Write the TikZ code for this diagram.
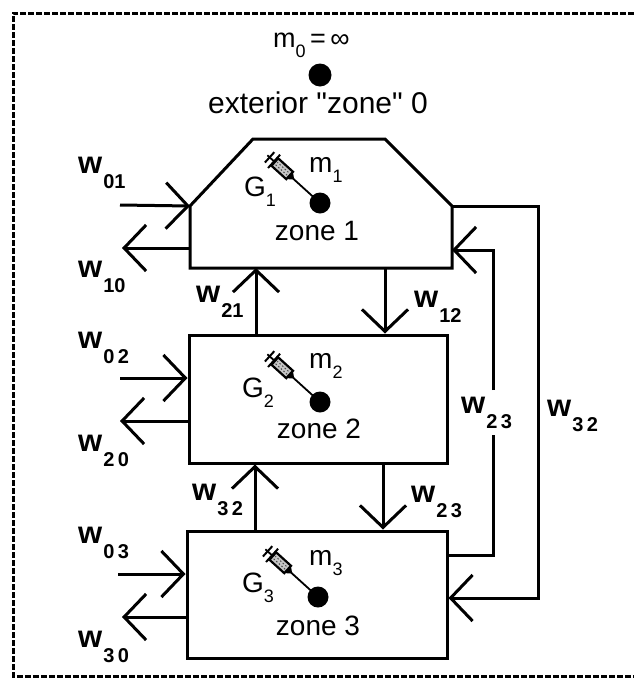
\documentclass[tikz,border=0pt]{standalone}
\usepackage{fontspec}
\setmainfont{Liberation Sans}
\newfontfamily\qf{Liberation Sans}
\usetikzlibrary{arrows.meta,calc}
\newcommand{\wsub}[1]{w\hspace{1pt}\raisebox{-15pt}{\fontsize{20}{20}\selectfont #1}}
\newcommand{\gsub}[2]{#1\raisebox{-10pt}{\fontsize{18}{18}\selectfont #2}}
\begin{document}
\begin{tikzpicture}[x=1pt,y=-1pt,
  ln/.style={line width=3pt},
  arr/.style={line width=3pt,-{Straight Barb[length=22pt,width=46pt]}},
  zonebox/.style={draw,line width=3pt,rectangle,inner sep=0pt},
  dotnode/.style={circle,fill=black,inner sep=0pt,minimum size=21pt},
  big/.style={font=\fontsize{28}{30}\selectfont,inner sep=0pt,anchor=base},
  wlab/.style={font=\fontsize{31}{31}\selectfont\bfseries,inner sep=0pt,anchor=base west},
  gm/.style={font=\fontsize{28}{28}\selectfont,inner sep=0pt,anchor=base west},
  border/.style={line width=3pt,dash pattern=on 6pt off 2pt}
]
\useasboundingbox (0,0) rectangle (634,678);
% dashed frame
\coordinate (fr1) at (634,13);
\coordinate (fr2) at (13,13);
\coordinate (fr3) at (13,676);
\coordinate (fr4) at (634,676);
\draw[border] (fr1) -- (fr2) -- (fr3) -- (fr4);

% exterior zone 0
\node[gm,font=\fontsize{27}{27}\selectfont] (m0) at (273,47) {\gsub{m}{0}\,=\,∞};
\node[dotnode,minimum size=23pt] (d0) at (320,75) {};
\node[big,font=\fontsize{30}{30}\selectfont] (ext) at (318,113) {exterior {\qf"}zone{\qf"} 0};

% zone 1 (chamfered box)
\coordinate (z1a) at (253,139);
\coordinate (z1b) at (385,139);
\coordinate (z1c) at (452,206);
\coordinate (z1d) at (452,268);
\coordinate (z1e) at (190,268);
\coordinate (z1f) at (190,206);
\draw[ln,line join=miter] (z1a) -- (z1b) -- (z1c) -- (z1d) -- (z1e) -- (z1f) -- cycle;

% zone 2 and zone 3 boxes
\node[zonebox,minimum width=258pt,minimum height=128pt] (b2) at (318,399) {};
\node[zonebox,minimum width=260pt,minimum height=127pt] (b3) at (317,594.5) {};

% dots
\node[dotnode] (d1) at (320,203) {};
\node[dotnode] (d2) at (320,402) {};
\node[dotnode] (d3) at (318,597) {};

% syringes
\foreach \d in {d1,d2,d3}{
  \begin{scope}[shift={(\d.center)},rotate=137.8]
    \draw[line width=1.8pt] (8,0) -- (36,0);
    \draw[line width=1.4pt,fill=black] (36,0) -- (41,-4) -- (41,4) -- cycle;
    \draw[line width=2.2pt,fill=gray!45] (41,-5) rectangle (61,5);
    \draw[line width=1pt,black!70,dash pattern=on 1.5pt off 2pt] (43,-1.5) -- (59,-1.5) (44,1.5) -- (59,1.5);
    \draw[line width=2pt] (62,-9) -- (62,9);
    \draw[line width=1.8pt] (62,0) -- (71,0);
    \draw[line width=2pt] (68,-7) -- (68,7);
  \end{scope}
}

% zone labels and G/m labels
\node[big] (zl1) at (317,240) {zone 1};
\node[big] (zl2) at (319,438) {zone 2};
\node[big] (zl3) at (318,635) {zone 3};
\node[gm] (g1) at (244,196) {\gsub{G}{1}};
\node[gm] (m1) at (309,172) {\gsub{m}{1}};
\node[gm] (g2) at (242,397) {\gsub{G}{2}};
\node[gm] (m2) at (309,368) {\gsub{m}{2}};
\node[gm] (g3) at (242,592) {\gsub{G}{3}};
\node[gm] (m3) at (309,565) {\gsub{m}{3}};

% exterior flows
\coordinate (i1) at (120,205);
\coordinate (o1) at (122,248);
\coordinate (i2) at (120,378);
\coordinate (o2) at (120,421);
\coordinate (i3) at (118,574);
\coordinate (o3) at (122,617);
\draw[arr] (i1) -- (z1f);
\draw[arr] (z1e |- o1) -- (o1);
\draw[arr] (i2) -- (i2 -| b2.west);
\draw[arr] (o2 -| b2.west) -- (o2);
\draw[arr] (i3) -- (i3 -| b3.west);
\draw[arr] (o3 -| b3.west) -- (o3);

% vertical flows between zones
\coordinate (v21) at (256,300);
\coordinate (v12) at (385,300);
\coordinate (v32) at (255,497);
\coordinate (v23) at (383,497);
\draw[arr] (v21 |- b2.north) -- (v21 |- z1e);
\draw[arr] (v12 |- z1e) -- (v12 |- b2.north);
\draw[arr] (v32 |- b3.north) -- (v32 |- b2.south);
\draw[arr] (v23 |- b2.south) -- (v23 |- b3.north);

% long flows on the right
\coordinate (r23a) at (493,555);
\coordinate (r23b) at (493,435);
\coordinate (r23c) at (493,390);
\coordinate (r23d) at (493,250);
\draw[ln] (r23a -| b3.east) -- (r23a) -- (r23b);
\draw[arr] (r23c) -- (r23d) -- (r23d -| z1d);
\coordinate (r32a) at (538,206);
\coordinate (r32b) at (538,598);
\draw[arr] (z1c) -- (r32a) -- (r32b) -- (r32b -| b3.east);

% flow labels
\node[wlab] (lw01) at (78,173) {\wsub{01}};
\node[wlab] (lw10) at (78,277) {\wsub{10}};
\node[wlab] (lw02) at (78,348) {\wsub{0\,2}};
\node[wlab] (lw20) at (78,451) {\wsub{2\,0}};
\node[wlab] (lw03) at (78,543) {\wsub{0\,3}};
\node[wlab] (lw30) at (78,647) {\wsub{3\,0}};
\node[wlab] (lw21) at (196,302) {\wsub{21}};
\node[wlab] (lw12) at (414,307) {\wsub{12}};
\node[wlab] (lw32a) at (192,500) {\wsub{3\,2}};
\node[wlab] (lw23a) at (411,502) {\wsub{2\,3}};
\node[wlab] (lw23b) at (461,413) {\wsub{2\,3}};
\node[wlab] (lw32b) at (547,416) {\wsub{3\,2}};
\end{tikzpicture}
\end{document}
